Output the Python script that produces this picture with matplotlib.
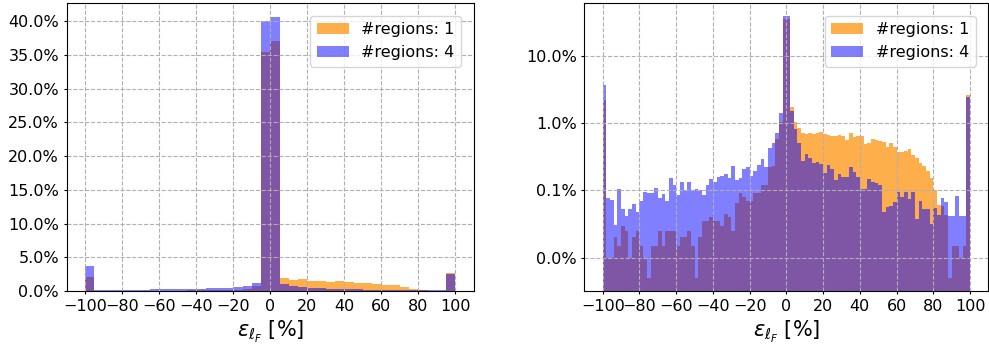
"""Relative error distribution for one versus four regions, linear and log views."""

import matplotlib

matplotlib.use("Agg")
import matplotlib.pyplot as plt  # noqa: E402
import numpy as np  # noqa: E402
from matplotlib.ticker import MultipleLocator, NullLocator, PercentFormatter  # noqa: E402

# Bin edges of the error, in percent: 5-wide bins (linear view), 2-wide bins (log view)
COARSE_EDGES = np.linspace(-100, 100, 41)
FINE_EDGES = np.linspace(-100, 100, 101)

# Share of samples per bin, in percent
COARSE_ONE = [
    2.1, 0.03, 0.04, 0.05, 0.04, 0.03, 0.05, 0.06, 0.05, 0.06,
    0.04, 0.09, 0.09, 0.10, 0.12, 0.18, 0.19, 0.29, 0.75, 35.35,
    37.1, 1.97, 1.63, 1.73, 1.48, 1.43, 1.38, 1.53, 1.28, 1.13,
    1.23, 0.99, 0.84, 0.84, 0.54, 0.30, 0.10, 0.05, 0.02, 2.6,
]
COARSE_FOUR = [
    3.7, 0.15, 0.12, 0.15, 0.18, 0.22, 0.20, 0.30, 0.28, 0.28,
    0.26, 0.32, 0.36, 0.40, 0.45, 0.50, 0.52, 0.68, 1.25, 40.05,
    40.65, 0.99, 0.79, 0.64, 0.49, 0.39, 0.35, 0.30, 0.30, 0.25,
    0.20, 0.20, 0.15, 0.15, 0.15, 0.12, 0.12, 0.12, 0.12, 2.45,
]
FINE_ONE = [
    2.19, 0.010, 0.010, 0.020, 0.015, 0.030, 0.025, 0.010, 0.020, 0.025,
    0.015, 0.010, 0.005, 0.015, 0.015, 0.025, 0.015, 0.025, 0.025, 0.025,
    0.015, 0.020, 0.020, 0.025, 0.015, 0.005, 0.020, 0.035, 0.035, 0.040,
    0.035, 0.035, 0.030, 0.045, 0.040, 0.025, 0.065, 0.090, 0.080, 0.070,
    0.070, 0.090, 0.090, 0.120, 0.120, 0.220, 0.233, 0.577, 1.02, 34.8,
    35.0, 1.75, 1.02, 0.857, 0.723, 0.684, 0.707, 0.684, 0.723, 0.740,
    0.684, 0.661, 0.632, 0.646, 0.661, 0.632, 0.564, 0.723, 0.610, 0.646,
    0.646, 0.487, 0.504, 0.577, 0.564, 0.545, 0.527, 0.435, 0.504, 0.435,
    0.367, 0.375, 0.388, 0.411, 0.335, 0.299, 0.255, 0.233, 0.197, 0.152,
    0.100, 0.061, 0.059, 0.043, 0.005, 0.015, 0.015, 0.010, 0.015, 2.57,
]
FINE_FOUR = [
    3.65, 0.078, 0.073, 0.031, 0.106, 0.052, 0.042, 0.052, 0.062, 0.048,
    0.069, 0.094, 0.090, 0.092, 0.107, 0.077, 0.089, 0.069, 0.152, 0.121,
    0.084, 0.132, 0.100, 0.132, 0.100, 0.103, 0.100, 0.084, 0.121, 0.145,
    0.135, 0.157, 0.166, 0.176, 0.152, 0.233, 0.140, 0.152, 0.208, 0.220,
    0.166, 0.197, 0.241, 0.292, 0.220, 0.420, 0.504, 0.707, 1.43, 38.5,
    38.8, 1.51, 0.81, 0.50, 0.277, 0.347, 0.299, 0.255, 0.267, 0.247,
    0.182, 0.239, 0.208, 0.140, 0.176, 0.157, 0.157, 0.220, 0.190, 0.157,
    0.106, 0.106, 0.148, 0.132, 0.128, 0.121, 0.048, 0.057, 0.059, 0.067,
    0.096, 0.080, 0.094, 0.075, 0.096, 0.037, 0.069, 0.052, 0.052, 0.032,
    0.055, 0.043, 0.077, 0.067, 0.042, 0.042, 0.082, 0.042, 0.042, 2.46,
]

LABELS = ["#regions: 1", "#regions: 4"]
XTICKS = np.arange(-100, 101, 20)
XLABEL = r"$\varepsilon_{\ell_F}$ [%]"

_STYLE = [
    {"color": "darkorange", "alpha": 0.7},
    {"color": "blue", "alpha": 0.5},
]


def _draw(ax, edges, series, log=False):
    centers = 0.5 * (edges[:-1] + edges[1:])
    for values, label, style in zip(series, LABELS, _STYLE):
        ax.hist(
            centers,
            bins=edges,
            weights=values,
            histtype="stepfilled",
            log=log,
            label=label,
            **style,
        )
    ax.set_xticks(XTICKS)
    ax.set_xlabel(XLABEL, fontsize=15)
    ax.yaxis.set_major_formatter(PercentFormatter(100, decimals=1))
    ax.tick_params(length=2.5, pad=3)
    ax.grid(True, ls="--")
    ax.legend(loc="upper right", fontsize=11.5, borderaxespad=0.8)


def main():
    plt.rcParams["xtick.labelsize"] = 11.5
    plt.rcParams["ytick.labelsize"] = 11.5

    fig = plt.figure(figsize=(9.89, 3.47), dpi=100)
    ax_lin = fig.add_axes([0.0674, 0.1614, 0.4118, 0.830])
    ax_log = fig.add_axes([0.5909, 0.1614, 0.4085, 0.830])

    _draw(ax_lin, COARSE_EDGES, [COARSE_ONE, COARSE_FOUR])
    ax_lin.yaxis.set_major_locator(MultipleLocator(5))

    _draw(ax_log, FINE_EDGES, [FINE_ONE, FINE_FOUR], log=True)
    ax_log.yaxis.set_minor_locator(NullLocator())
    # log limits from the data with the usual 5 % padding
    vals = np.concatenate([FINE_ONE, FINE_FOUR])
    lo, hi = np.log10(vals.min()), np.log10(vals.max())
    pad = 0.05 * (hi - lo)
    ax_log.set_ylim(10 ** (lo - pad), 10 ** (hi + pad))

    fig.savefig("out.png", dpi=100)
    plt.close(fig)


if __name__ == "__main__":
    main()
